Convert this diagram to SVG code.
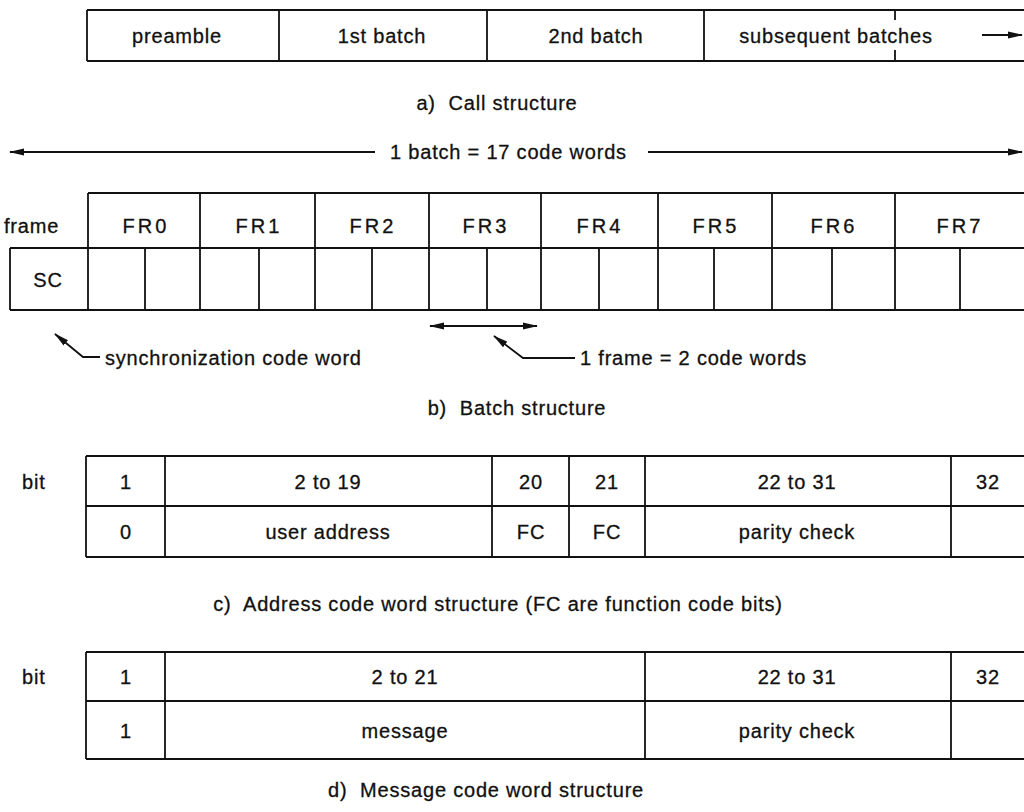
<svg xmlns="http://www.w3.org/2000/svg" width="1024" height="812" viewBox="0 0 1024 812">
<style>
text{font-family:"Liberation Sans",Arial,sans-serif;font-size:20px;fill:#111;stroke:#111;stroke-width:0.3;letter-spacing:0.8px}
.c{text-anchor:middle}
.fr{letter-spacing:3px}
.ln{stroke:#111;stroke-width:1.8;fill:none}
.ar{stroke:#111;stroke-width:1.8;fill:none}
</style>
<defs>
<marker id="ah" viewBox="0 0 15 8" refX="14" refY="4" markerWidth="15" markerHeight="8" markerUnits="userSpaceOnUse" orient="auto-start-reverse">
<path d="M0,0.5 L15,4 L0,7.5 z" fill="#111"/>
</marker>
</defs>
<rect width="1024" height="812" fill="#fff"/>

<g id="call-structure">
<path class="ln" d="M87,10 H1024 M87,61 H1024 M87,10 V61 M279,10 V61 M487,10 V61 M704,10 V61 M895,11 V20 M895,50 V61"/>
<text class="c" x="177" y="43">preamble</text>
<text class="c" x="382" y="43">1st batch</text>
<text class="c" x="596" y="43">2nd batch</text>
<text class="c" x="836" y="43">subsequent batches</text>
</g>
<text id="caption-a" class="c" x="497" y="110" xml:space="preserve">a)  Call structure</text>

<g id="batch-table">
<path class="ln" d="M88,193 H1024 M10,248 H1024 M10,310 H1024 M10,248 V310 M88,193 V310 M200,193 V310 M315,193 V310 M429,193 V310 M541,193 V310 M658,193 V310 M772,193 V310 M895,193 V310 M145,248 V310 M259,248 V310 M372,248 V310 M487,248 V310 M599,248 V310 M714,248 V310 M832,248 V310 M960,248 V310"/>
<text x="4" y="233">frame</text>
<text class="c fr" x="146" y="233">FR0</text>
<text class="c fr" x="259" y="233">FR1</text>
<text class="c fr" x="373" y="233">FR2</text>
<text class="c fr" x="486" y="233">FR3</text>
<text class="c fr" x="600" y="233">FR4</text>
<text class="c fr" x="716" y="233">FR5</text>
<text class="c fr" x="834" y="233">FR6</text>
<text class="c fr" x="960" y="233">FR7</text>
<text class="c" x="48" y="287">SC</text>
</g>

<g id="connectors">
<line class="ar" x1="375" y1="152" x2="10" y2="152" marker-end="url(#ah)"/>
<line class="ar" x1="648" y1="152" x2="1022" y2="152" marker-end="url(#ah)"/>
<line class="ar" x1="982" y1="35" x2="1022" y2="35" marker-end="url(#ah)"/>
<polyline class="ar" points="100,357 83,357 55,334" marker-end="url(#ah)"/>
<line class="ar" x1="430" y1="326" x2="537" y2="326" marker-start="url(#ah)" marker-end="url(#ah)"/>
<polyline class="ar" points="575,358 523,358 494,336" marker-end="url(#ah)"/>
</g>
<text id="batch-label" x="390" y="159">1 batch = 17 code words</text>
<text id="sync-label" x="105" y="365">synchronization code word</text>
<text id="frame-label" x="580" y="365">1 frame = 2 code words</text>
<text id="caption-b" class="c" x="517" y="415" xml:space="preserve">b)  Batch structure</text>

<g id="address-word">
<text x="22" y="489">bit</text>
<path class="ln" d="M86,456 H1024 M86,506 H1024 M86,557 H1024 M86,456 V557 M165,456 V557 M492,456 V557 M569,456 V557 M645,456 V557 M951,456 V557"/>
<text class="c" x="126" y="489">1</text>
<text class="c" x="328" y="489">2 to 19</text>
<text class="c" x="531" y="489">20</text>
<text class="c" x="607" y="489">21</text>
<text class="c" x="797" y="489">22 to 31</text>
<text class="c" x="988" y="489">32</text>
<text class="c" x="126" y="539">0</text>
<text class="c" x="328" y="539">user address</text>
<text class="c" x="531" y="539">FC</text>
<text class="c" x="607" y="539">FC</text>
<text class="c" x="797" y="539">parity check</text>
</g>
<text id="caption-c" class="c" x="498" y="611" xml:space="preserve">c)  Address code word structure (FC are function code bits)</text>

<g id="message-word">
<text x="22" y="684">bit</text>
<path class="ln" d="M86,652 H1024 M86,701 H1024 M86,759 H1024 M86,652 V759 M165,652 V759 M645,652 V759 M951,652 V759"/>
<text class="c" x="126" y="684">1</text>
<text class="c" x="405" y="684">2 to 21</text>
<text class="c" x="797" y="684">22 to 31</text>
<text class="c" x="988" y="684">32</text>
<text class="c" x="126" y="738">1</text>
<text class="c" x="405" y="738">message</text>
<text class="c" x="797" y="738">parity check</text>
</g>
<text id="caption-d" class="c" x="486" y="797" xml:space="preserve">d)  Message code word structure</text>
</svg>
